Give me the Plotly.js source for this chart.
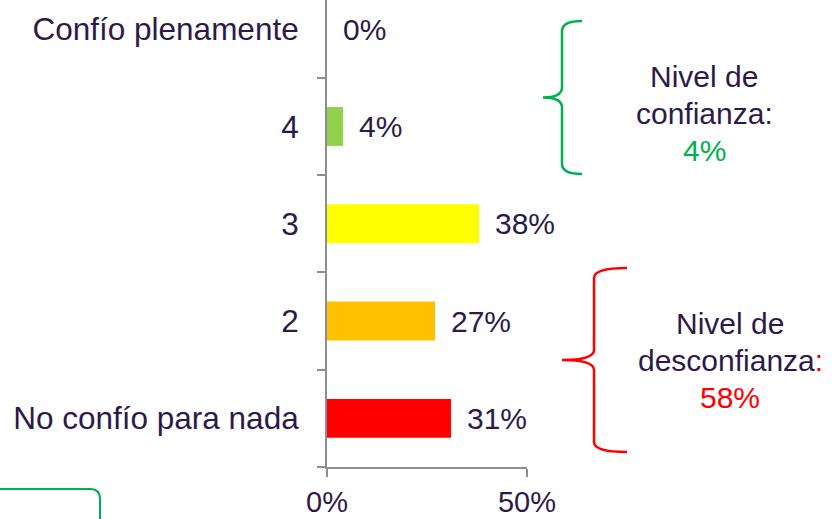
<!DOCTYPE html>
<html>
<head>
<meta charset="utf-8">
<script src="https://cdn.plot.ly/plotly-3.0.1.min.js"></script>
<style>html,body{margin:0;padding:0;background:#fff;}#chart{width:836px;height:519px;}</style>
</head>
<body>
<div id="chart"></div>
<script>
// ---- data ----
const categories = ["No confío para nada", "2", "3", "4", "Confío plenamente"];
const values = [0.31, 0.27, 0.38, 0.04, 0.00];
const barColors = ["#FF0000", "#FFC000", "#FFFF00", "#92D050", "#92D050"];
const xTickVals = [0, 0.5];
const xTickText = ["0%", "50%"];
const trustLines = ["Nivel de", "confianza:", "4%"];
const distrustLines = ["Nivel de", "desconfianza", "58%"];

// ---- styling ----
const W = 836, H = 519;
const M = {l: 327, r: 309, t: 0, b: 52};
const PW = W - M.l - M.r, PH = H - M.t - M.b;
const textColor = "#2D1A4A";
const axisColor = "#8E8C98";
const FONT = "Liberation Sans, Arial, sans-serif";
const green = "#00B050", red = "#FF0000";

function px(x) { return ((x - M.l) / PW).toFixed(5); }
function py(y) { return ((M.t + PH - y) / PH).toFixed(5); }
function P(x, y) { return px(x) + "," + py(y); }

function bracePath(xTip, xMid, xPt, yTop, yBot, r) {
  const yc = (yTop + yBot) / 2;
  return "M" + P(xTip, yTop) +
    " Q" + P(xMid, yTop) + " " + P(xMid, yTop + r) +
    " L" + P(xMid, yc - r) +
    " Q" + P(xMid, yc) + " " + P(xPt, yc) +
    " Q" + P(xMid, yc) + " " + P(xMid, yc + r) +
    " L" + P(xMid, yBot - r) +
    " Q" + P(xMid, yBot) + " " + P(xTip, yBot);
}

const trace = {
  type: "bar",
  orientation: "h",
  x: values,
  y: categories,
  marker: {color: barColors},
  width: 0.4,
  hoverinfo: "skip"
};

// value labels: y given as category index (position on the category axis)
const annotations = values.map((v, i) => ({
  x: v, y: i, xref: "x", yref: "y",
  text: Math.round(v * 100) + "%",
  xanchor: "left", yanchor: "middle", xshift: 14,
  showarrow: false,
  font: {family: FONT, size: 30, color: textColor}
}));

const trustY = [77, 114, 151];
trustLines.forEach((t, i) => annotations.push({
  xref: "paper", yref: "paper", x: +px(704), y: +py(trustY[i]),
  text: t, showarrow: false, xanchor: "center", yanchor: "middle",
  font: {family: FONT, size: 30, color: i === 2 ? green : textColor}
}));
const distrustY = [323, 360, 397];
distrustLines.forEach((t, i) => annotations.push({
  xref: "paper", yref: "paper", x: +px(730), y: +py(distrustY[i]),
  text: i === 1 ? t + "<span style='color:" + red + "'>:</span>" : t,
  showarrow: false, xanchor: "center", yanchor: "middle",
  font: {family: FONT, size: 30, color: i === 2 ? red : textColor}
}));

const shapes = [
  {type: "path", xref: "paper", yref: "paper",
   path: bracePath(582, 562, 543, 21, 174, 10),
   line: {color: green, width: 2.5}},
  {type: "path", xref: "paper", yref: "paper",
   path: bracePath(627, 594, 562, 268, 452, 10),
   line: {color: red, width: 2.5}},
  {type: "path", xref: "paper", yref: "paper",
   path: "M" + P(-5, 489) + " L" + P(90, 489) + " Q" + P(100, 489) + " " + P(100, 499) + " L" + P(100, 530),
   line: {color: green, width: 2}}
];

const layout = {
  width: W, height: H, autosize: false,
  margin: M,
  paper_bgcolor: "#fff", plot_bgcolor: "rgba(0,0,0,0)",
  showlegend: false,
  font: {family: FONT, color: textColor},
  xaxis: {
    range: [0, 0.5], tickvals: xTickVals, ticktext: xTickText,
    ticks: "outside", ticklen: 8, tickwidth: 2, tickcolor: axisColor,
    showline: true, linecolor: axisColor, linewidth: 2,
    showgrid: false, zeroline: false, fixedrange: true,
    ticklabelstandoff: 0,
    tickfont: {family: FONT, size: 29, color: textColor}
  },
  yaxis: {
    type: "category", categoryorder: "array", categoryarray: categories,
    range: [-0.5, 4.3], tickson: "boundaries",
    ticks: "outside", ticklen: 8, tickwidth: 2, tickcolor: axisColor,
    showline: true, linecolor: axisColor, linewidth: 2,
    showgrid: false, zeroline: false, fixedrange: true,
    ticklabelstandoff: 20,
    tickfont: {family: FONT, size: 31.5, color: textColor}
  },
  annotations: annotations,
  shapes: shapes
};

Plotly.newPlot("chart", [trace], layout, {displayModeBar: false, staticPlot: true});
</script>
</body>
</html>
